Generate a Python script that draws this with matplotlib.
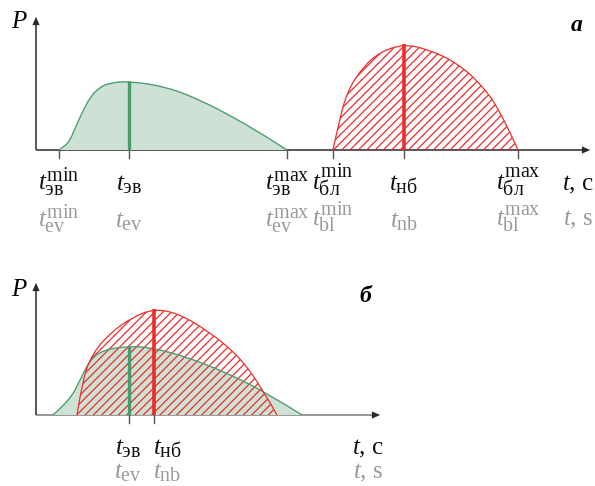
import numpy as np
import matplotlib
matplotlib.use("Agg")
import matplotlib.pyplot as plt
import matplotlib._mathtext as _mt
from matplotlib.path import Path
from matplotlib.patches import PathPatch, FancyArrowPatch

_mt.SHRINK_FACTOR = 0.8

plt.rcParams['mathtext.fontset'] = 'custom'
plt.rcParams['mathtext.rm'] = 'Liberation Serif'
plt.rcParams['mathtext.it'] = 'Liberation Serif:italic'
plt.rcParams['mathtext.bf'] = 'Liberation Serif:bold'
plt.rcParams['font.family'] = ['Liberation Serif', 'DejaVu Serif']
plt.rcParams['hatch.linewidth'] = 0.9

# ---- data (time units along t, P in arbitrary units) ----
# panel a
ev_a_t = [23, 29, 34, 38, 44, 54, 64, 74, 93, 131, 164, 197, 231, 251]
ev_a_p = [0, 4, 10, 19, 33, 53, 63, 67, 69, 63, 50, 33, 13, 0]
bl_a_t = [297, 304, 312, 327, 344, 368, 394, 421, 444, 464, 482]
bl_a_p = [0, 33, 60, 83, 98, 106, 100, 87, 67, 40, 0]
ticks_a = [23, 93, 251, 297, 368, 482]
labels_a_ru = [r'$t_{\mathrm{эв}}^{\mathrm{min}}$', r'$t_{\mathrm{эв}}$', r'$t_{\mathrm{эв}}^{\mathrm{max}}$',
               r'$t_{\mathrm{бл}}^{\mathrm{min}}$', r'$t_{\mathrm{нб}}$', r'$t_{\mathrm{бл}}^{\mathrm{max}}$']
labels_a_en = [r'$t_{\mathrm{ev}}^{\mathrm{min}}$', r'$t_{\mathrm{ev}}$', r'$t_{\mathrm{ev}}^{\mathrm{max}}$',
               r'$t_{\mathrm{bl}}^{\mathrm{min}}$', r'$t_{\mathrm{nb}}$', r'$t_{\mathrm{bl}}^{\mathrm{max}}$']
peak_ev_a = 93
peak_bl_a = 368

# panel b
ev_b_t = [17, 34, 44, 54, 67, 93, 117, 151, 191, 231, 266]
ev_b_p = [0, 15, 35, 55, 65, 69, 67, 58, 42, 22, 0]
bl_b_t = [41, 47, 57, 74, 97, 118, 141, 171, 204, 227, 241]
bl_b_p = [0, 38, 62, 82, 98, 106, 102, 85, 58, 25, 0]
ticks_b = [93, 118]
labels_b_ru = [r'$t_{\mathrm{эв}}$', r'$t_{\mathrm{нб}}$']
labels_b_en = [r'$t_{\mathrm{ev}}$', r'$t_{\mathrm{nb}}$']
peak_ev_b = 93
peak_bl_b = 118

GREEN_FILL = '#cde2d4'
GREEN_EDGE = '#519e72'
GREEN_LINE = '#4b9a6b'
RED = '#ee2c2c'
AXIS = '#2a2a2a'
GRAY_TXT = '#9a9a9a'
FS = 18

W, H = 595, 486
fig = plt.figure(figsize=(W / 100, H / 100), dpi=100)


def smooth_path(xs, ys, close=True):
    pts = list(zip(xs, ys))
    verts = [pts[0]]
    codes = [Path.MOVETO]
    for i in range(1, len(pts) - 1):
        mid = ((pts[i][0] + pts[i + 1][0]) / 2, (pts[i][1] + pts[i + 1][1]) / 2)
        if i == len(pts) - 2:
            mid = pts[-1]
        verts += [pts[i], mid]
        codes += [Path.CURVE3, Path.CURVE3]
    if close:
        verts += [pts[0], pts[0]]
        codes += [Path.LINETO, Path.CLOSEPOLY]
    return Path(verts, codes)


def make_axes(origin_px):
    ox, oy = origin_px
    ax = fig.add_axes([0, 0, 1, 1])
    ax.set_xlim(-ox, W - ox)
    ax.set_ylim(-(H - oy), oy)
    ax.axis('off')
    ax.patch.set_alpha(0)
    return ax


def draw_axes(ax, ytop, xend, xcolor):
    ax.plot([0, xend - 6], [0, 0], color=xcolor, lw=1.1, solid_capstyle='butt', zorder=1)
    ax.add_patch(FancyArrowPatch((xend - 8, 0), (xend, 0), arrowstyle='-|>,head_length=6,head_width=2.6',
                                 mutation_scale=1, color=AXIS, lw=0, zorder=6))
    ax.plot([0, 0], [0, ytop - 6], color=AXIS, lw=1.1, solid_capstyle='butt', zorder=6)
    ax.add_patch(FancyArrowPatch((0, ytop - 8), (0, ytop), arrowstyle='-|>,head_length=6,head_width=2.6',
                                 mutation_scale=1, color=AXIS, lw=0, zorder=6))


def draw_curves(ax, ev_t, ev_p, bl_t, bl_p, pev, pbl):
    gp = smooth_path(ev_t, ev_p)
    ax.add_patch(PathPatch(gp, facecolor=GREEN_FILL, edgecolor='none', zorder=2))
    ax.add_patch(PathPatch(smooth_path(ev_t, ev_p, close=False), facecolor='none',
                           edgecolor=GREEN_EDGE, lw=1.0, zorder=4))
    rp = smooth_path(bl_t, bl_p)
    ax.add_patch(PathPatch(rp, facecolor='none', edgecolor=RED, hatch='////', lw=0, zorder=3))
    ax.add_patch(PathPatch(smooth_path(bl_t, bl_p, close=False), facecolor='none',
                           edgecolor=RED, lw=0.9, zorder=4))
    hev = ev_p[ev_t.index(pev)]
    hbl = bl_p[bl_t.index(pbl)]
    ax.plot([pev, pev], [0, hev], color=GREEN_LINE, lw=2.4, solid_capstyle='butt', zorder=5)
    ax.plot([pbl, pbl], [0, hbl], color=RED, lw=2.6, solid_capstyle='butt', zorder=5)


def draw_ticks(ax, ticks, ru, en, y1, y2, aligns=None, shifts=None):
    n = len(ticks)
    aligns = aligns or ['center'] * n
    shifts = shifts or [0] * n
    for t, r, e, ha, dx in zip(ticks, ru, en, aligns, shifts):
        ax.plot([t, t], [0, -8], color='#555555', lw=1.0, zorder=1)
        ax.text(t + dx, y1, r, ha=ha, va='baseline', fontsize=FS, color='#111111')
        ax.text(t + dx, y2, e, ha=ha, va='baseline', fontsize=FS, color=GRAY_TXT)


# panel a
axa = make_axes((36, 150))
draw_curves(axa, ev_a_t, ev_a_p, bl_a_t, bl_a_p, peak_ev_a, peak_bl_a)
draw_axes(axa, 136, 557, AXIS)
draw_ticks(axa, ticks_a, labels_a_ru, labels_a_en, -40, -77)
axa.text(-17, 128, r'$P$', ha='center', va='center', fontsize=18)
axa.text(541, 124, 'а', ha='center', va='center', fontsize=17, fontweight='bold', style='italic')
axa.text(542, -40, r'$t$, с', ha='center', va='baseline', fontsize=FS, color='#111111')
axa.text(542, -75, r'$t$, s', ha='center', va='baseline', fontsize=FS, color=GRAY_TXT)

# panel b
axb = make_axes((36, 415))
draw_curves(axb, ev_b_t, ev_b_p, bl_b_t, bl_b_p, peak_ev_b, peak_bl_b)
draw_axes(axb, 135, 347, '#7a7a7a')
draw_ticks(axb, ticks_b, labels_b_ru, labels_b_en, -39, -63,
           aligns=['center', 'left'], shifts=[-1, -1])
axb.text(-17, 125, r'$P$', ha='center', va='center', fontsize=18)
axb.text(329, 118, 'б', ha='center', va='center', fontsize=17, fontweight='bold', style='italic')
axb.text(332, -39, r'$t$, с', ha='center', va='baseline', fontsize=FS, color='#111111')
axb.text(332, -63, r'$t$, s', ha='center', va='baseline', fontsize=FS, color=GRAY_TXT)

fig.savefig('out.png', dpi=100)
